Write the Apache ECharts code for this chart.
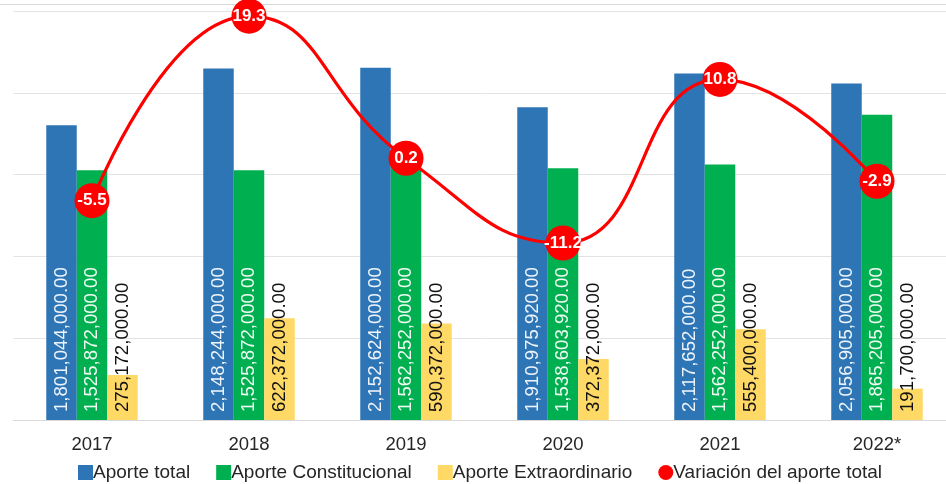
<!DOCTYPE html>
<html>
<head>
<meta charset="utf-8">
<script src="https://cdn.jsdelivr.net/npm/echarts@6/dist/echarts.min.js"></script>
<style>
  html, body { margin: 0; padding: 0; background: #fff; overflow: hidden; }
  #chart { width: 956px; height: 484px; }
</style>
</head>
<body>
<div id="chart"></div>
<script>
var years = ['2017', '2018', '2019', '2020', '2021', '2022*']
var aporteTotal = [1801044000, 2148244000, 2152624000, 1910975920, 2117652000, 2056905000]
var aporteConstitucional = [1525872000, 1525872000, 1562252000, 1538603920, 1562252000, 1865205000]
var aporteExtraordinario = [275172000, 622372000, 590372000, 372372000, 555400000, 191700000]
var variacion = [-5.5, 19.3, 0.2, -11.2, 10.8, -2.9]

var FONT = 'Liberation Sans, Arial, sans-serif'

function money(p) {
  return p.value.toLocaleString('en-US', { minimumFractionDigits: 2, maximumFractionDigits: 2 })
}

function barLabel(color) {
  return {
    show: true,
    rotate: 90,
    position: 'insideBottom',
    align: 'left',
    verticalAlign: 'middle',
    distance: 8,
    color: color,
    fontFamily: FONT,
    fontSize: 18.6,
    formatter: money
  }
}

// the plot runs a little past the right edge of the 946px window, as in the original
var chart = echarts.init(document.getElementById('chart'))
chart.setOption({
  animation: false,
  backgroundColor: '#fff',
  graphic: [{
    type: 'line',
    shape: { x1: 0, y1: 4.5, x2: 956, y2: 4.5 },
    style: { stroke: '#d9d9d9', lineWidth: 1 }
  }],
  legend: {
    top: 463,
    left: 78,
    padding: 0,
    itemGap: 26,
    itemWidth: 15,
    itemHeight: 15,
    textStyle: { fontFamily: FONT, fontSize: 19, color: '#262626', padding: [0, 0, 0, -5] },
    data: [
      { name: 'Aporte total', icon: 'rect' },
      { name: 'Aporte Constitucional', icon: 'rect' },
      { name: 'Aporte Extraordinario', icon: 'rect' },
      { name: 'Variación del aporte total', icon: 'circle' }
    ]
  },
  grid: { left: 13.5, top: 11, right: 0.5, bottom: 64 },
  xAxis: {
    type: 'category',
    data: years,
    axisTick: { show: false },
    axisLine: { lineStyle: { color: '#d9d9d9', width: 1 } },
    axisLabel: { fontFamily: FONT, fontSize: 18.5, color: '#262626', margin: 15 }
  },
  yAxis: [
    {
      type: 'value',
      min: 0,
      max: 2500000000,
      interval: 500000000,
      axisLabel: { show: false },
      axisLine: { show: false },
      axisTick: { show: false },
      splitLine: { lineStyle: { color: '#e3e3e3', width: 1 } }
    },
    {
      type: 'value',
      min: -35,
      max: 20,
      show: false,
      splitLine: { show: false }
    }
  ],
  series: [
    {
      name: 'Aporte total',
      type: 'bar',
      barWidth: 30.5,
      barGap: '0%',
      itemStyle: { color: '#2e75b6' },
      label: barLabel('#eef4fb'),
      data: aporteTotal
    },
    {
      name: 'Aporte Constitucional',
      type: 'bar',
      barWidth: 30.5,
      barGap: '0%',
      itemStyle: { color: '#00b050' },
      label: barLabel('#eefaf2'),
      data: aporteConstitucional
    },
    {
      name: 'Aporte Extraordinario',
      type: 'bar',
      barWidth: 30.5,
      barGap: '0%',
      itemStyle: { color: '#ffd966' },
      label: barLabel('#111'),
      data: aporteExtraordinario
    },
    {
      name: 'Variación del aporte total',
      type: 'line',
      yAxisIndex: 1,
      smooth: 0.5,
      z: 10,
      symbol: 'circle',
      symbolSize: 35,
      lineStyle: { color: '#ff0000', width: 3.2 },
      itemStyle: { color: '#ff0000' },
      label: {
        show: true,
        position: 'inside',
        color: '#fff',
        fontFamily: FONT,
        fontWeight: 'bold',
        fontSize: 17
      },
      data: variacion
    }
  ]
})
</script>
</body>
</html>
